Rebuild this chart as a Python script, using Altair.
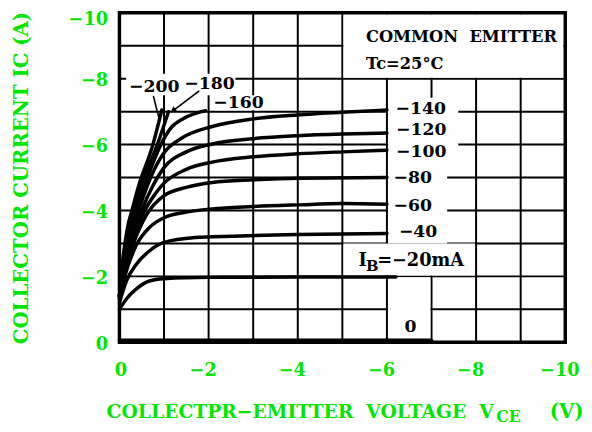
import altair as alt
import pandas as pd

GREEN = "#00e600"
SERIF = "DejaVu Serif"

# ---------------- characteristic curves (VCE [V], IC [A]) ----------------
ib_names = ["0", "-20", "-40", "-60", "-80", "-100", "-120", "-140", "-160", "-180", "-200"]

v_0 = [0.0, -7.0]
i_0 = [-0.06, -0.06]
v_20 = [0.0, -0.16, -0.38, -0.67, -1.0, -2.0, -4.0, -6.2]
i_20 = [-1.0, -1.32, -1.62, -1.86, -1.93, -1.97, -1.98, -1.98]
v_40 = [0.0, -0.16, -0.38, -0.67, -1.0, -1.7, -2.08, -4.0, -6.0]
i_40 = [-1.2, -1.87, -2.37, -2.77, -3.03, -3.18, -3.2, -3.27, -3.3]
v_60 = [0.0, -0.12, -0.38, -0.67, -1.0, -1.5, -2.08, -3.0, -4.0, -5.0, -6.0]
i_60 = [-1.3, -2.0, -2.95, -3.48, -3.78, -3.95, -4.05, -4.12, -4.17, -4.21, -4.19]
v_80 = [0.0, -0.1, -0.3, -0.6, -1.0, -1.5, -2.08, -3.0, -4.0, -6.0]
i_80 = [-1.35, -2.1, -2.95, -3.85, -4.45, -4.7, -4.85, -4.93, -4.98, -5.0]
v_100 = [0.0, -0.1, -0.28, -0.55, -0.8, -1.0, -1.5, -2.08, -3.0, -4.0, -5.0, -6.0]
i_100 = [-1.4, -2.2, -3.0, -3.95, -4.5, -4.83, -5.25, -5.47, -5.63, -5.72, -5.78, -5.83]
v_120 = [0.0, -0.1, -0.27, -0.5, -0.75, -1.0, -1.5, -2.08, -3.0, -4.0, -5.0, -6.0]
i_120 = [-1.4, -2.25, -3.1, -4.0, -4.75, -5.3, -5.78, -6.02, -6.18, -6.27, -6.32, -6.35]
v_140 = [0.0, -0.1, -0.25, -0.48, -0.7, -1.0, -1.4, -2.08, -3.0, -4.0, -5.0, -6.0]
i_140 = [-1.4, -2.3, -3.2, -4.2, -5.0, -5.75, -6.2, -6.55, -6.78, -6.9, -6.98, -7.05]
v_160 = [0.0, -0.1, -0.22, -0.42, -0.6, -0.93, -1.15, -1.45, -1.93]
i_160 = [-1.4, -2.4, -3.3, -4.2, -4.9, -6.0, -6.5, -6.8, -7.03]
v_180 = [0.0, -0.08, -0.2, -0.37, -0.5, -0.85, -1.1]
i_180 = [-1.4, -2.4, -3.4, -4.2, -4.8, -6.0, -7.0]
v_200 = [0.0, -0.07, -0.17, -0.32, -0.42, -0.75, -0.95]
i_200 = [-1.4, -2.45, -3.4, -4.2, -4.7, -6.0, -7.05]

curve_v = [v_0, v_20, v_40, v_60, v_80, v_100, v_120, v_140, v_160, v_180, v_200]
curve_i = [i_0, i_20, i_40, i_60, i_80, i_100, i_120, i_140, i_160, i_180, i_200]

# ---------------- axes / grid ----------------
tick_values = [0, -2, -4, -6, -8, -10]
grid_x = [-1, -2, -3, -4, -5, -6, -7, -8, -9]
grid_y = [-1, -2, -3, -4, -5, -6, -7, -8, -9]

# ---------------- white label backgrounds (data units) ----------------
mask_x1 = [-5.025, -6.025, -6.025, -5.025, -6.025, -0.15, -2.1]
mask_x2 = [-9.96, -7.6, -7.35, -7.975, -6.975, -2.6, -3.2]
mask_y1 = [-8.03, -7.42, -5.5, -2.03, -0.12, -7.5, -7.04]
mask_y2 = [-9.96, -5.5, -3.0, -3.0, -1.97, -8.15, -7.5]

# ---------------- curve labels (centered) ----------------
clabel_text = ["\u2212140", "\u2212120", "\u2212100", "\u221280", "\u221260", "\u221240", "0",
               "\u2212200", "\u2212180", "\u2212160"]
clabel_x = [-6.76, -6.77, -6.77, -6.58, -6.58, -6.7, -6.53, -0.78, -2.02, -2.67]
clabel_y = [-7.08, -6.43, -5.78, -4.97, -4.12, -3.33, -0.45, -7.74, -7.83, -7.27]

# ---------------- left-aligned texts ----------------
ltext = ["COMMON\u00a0\u00a0EMITTER", "Tc=25\u00b0C", "I", "B", "=\u221220mA",
         "COLLECTPR\u2212EMITTER\u00a0\u00a0VOLTAGE\u00a0\u00a0V", "CE", "(V)"]
ltext_x = [-5.53, -5.53, -5.36, -5.53, -5.78, 0.288, -8.45, -9.65]
ltext_y = [-9.12, -8.29, -2.31, -2.16, -2.31, 2.3, 2.43, 2.3]
ltext_size = [16.5, 16.5, 18, 15, 18, 19, 16, 20]
ltext_color = ["black"] * 5 + [GREEN] * 3

# leader lines for -200 / -180
lead_x1 = [-0.76, -1.79]
lead_y1 = [-7.48, -7.63]
lead_x2 = [-0.9, -1.22]
lead_y2 = [-6.73, -7.05]

# ---------------- build tables ----------------
rows = []
for name, vs, cs in zip(ib_names, curve_v, curve_i):
    for k, (v, c) in enumerate(zip(vs, cs)):
        rows.append({"ib": name, "k": k, "v": v, "i": c})
curves_df = pd.DataFrame(rows)

xs = alt.Scale(domain=[0, -10], nice=False, zero=False)
ys = alt.Scale(domain=[0, -10], nice=False, zero=False)

y_axis = alt.Axis(
    values=tick_values, title="COLLECTOR CURRENT IC (A)",
    titleFont=SERIF, titleFontSize=20, titleFontWeight="bold", titleColor=GREEN,
    titlePadding=37, labelFont=SERIF, labelFontSize=18, labelFontWeight="bold",
    labelColor=GREEN, labelPadding=12, ticks=False, domain=False, grid=False,
    labelOffset=alt.condition("datum.value == -10", alt.value(7), alt.value(2)),
)
x_axis = alt.Axis(
    values=tick_values, title="",
    labelFont=SERIF, labelFontSize=18, labelFontWeight="bold", labelColor=GREEN,
    labelPadding=20, ticks=False, domain=False, grid=False, labelFlush=False,
    labelOffset=alt.condition("datum.value == 0", alt.value(1), alt.value(-6)),
)


def X(field):
    return alt.X(field, scale=xs, axis=x_axis)


def Y(field):
    return alt.Y(field, scale=ys, axis=y_axis)


hgrid = alt.Chart(pd.DataFrame({"g": grid_y, "a": [0] * 9, "b": [-10] * 9})).mark_rule(
    color="black", strokeWidth=2
).encode(y=Y("g:Q"), x=X("a:Q"), x2="b:Q")

vgrid = alt.Chart(pd.DataFrame({"g": grid_x, "a": [0] * 9, "b": [-10] * 9})).mark_rule(
    color="black", strokeWidth=2
).encode(x=X("g:Q"), y=Y("a:Q"), y2="b:Q")

masks = alt.Chart(pd.DataFrame({"x1": mask_x1, "x2": mask_x2, "y1": mask_y1, "y2": mask_y2})).mark_rect(
    color="white", strokeWidth=0
).encode(x=X("x1:Q"), x2="x2:Q", y=Y("y1:Q"), y2="y2:Q")

lines = alt.Chart(curves_df).mark_line(
    color="black", strokeWidth=3.5, interpolate="monotone", strokeCap="round"
).encode(x=X("v:Q"), y=Y("i:Q"), detail="ib:N", order="k:Q")

frame = alt.Chart(pd.DataFrame({"a": [0], "b": [-10], "c": [0], "d": [-10]})).mark_rect(
    filled=False, stroke="black", strokeWidth=3.5
).encode(x=X("a:Q"), x2="b:Q", y=Y("c:Q"), y2="d:Q")

leaders = alt.Chart(pd.DataFrame({"x1": lead_x1, "y1": lead_y1, "x2": lead_x2, "y2": lead_y2})).mark_rule(
    color="black", strokeWidth=1.6
).encode(x=X("x1:Q"), x2="x2:Q", y=Y("y1:Q"), y2="y2:Q")

arrow = alt.Chart(pd.DataFrame({"x": [lead_x2[1]], "y": [lead_y2[1]]})).mark_point(
    shape="triangle", filled=True, color="black", size=45, angle=233, opacity=1
).encode(x=X("x:Q"), y=Y("y:Q"))

clabels = alt.Chart(pd.DataFrame({"t": clabel_text, "x": clabel_x, "y": clabel_y})).mark_text(
    align="center", baseline="middle", font=SERIF, fontSize=17.5, fontWeight="bold", color="black"
).encode(x=X("x:Q"), y=Y("y:Q"), text="t:N")

ltexts = alt.Chart(pd.DataFrame({"t": ltext, "x": ltext_x, "y": ltext_y,
                                 "s": ltext_size, "c": ltext_color})).mark_text(
    align="left", baseline="alphabetic", font=SERIF, fontWeight="bold"
).encode(
    x=X("x:Q"), y=Y("y:Q"), text="t:N",
    size=alt.Size("s:Q", scale=None),
    color=alt.Color("c:N", scale=None),
)

chart = alt.layer(
    hgrid, vgrid, masks, lines, frame, leaders, arrow, clabels, ltexts
).properties(
    width=452, height=334,
    autosize=alt.AutoSizeParams(type="none"),
    padding={"left": 113, "top": 2, "right": 19, "bottom": 82},
).configure_view(stroke=None)

chart.save("out.html", embed_options={"renderer": "svg", "actions": False})
